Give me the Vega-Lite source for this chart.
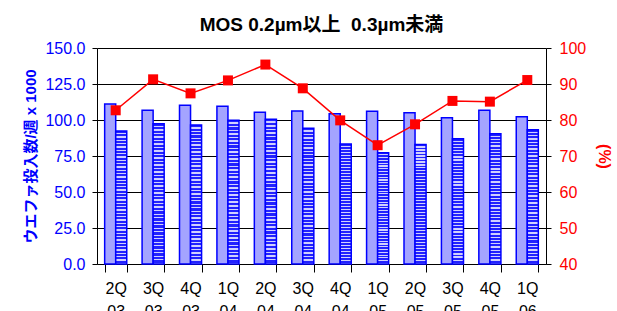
{
  "$schema": "https://vega.github.io/schema/vega-lite/v6.json",
  "width": 449,
  "height": 216,
  "autosize": "none",
  "padding": {"left": 97, "top": 48, "right": 71, "bottom": 47},
  "background": "white",
  "config": {
    "font": "Liberation Sans, Noto Sans CJK JP",
    "view": {"stroke": null}
  },
  "title": {
    "text": "MOS 0.2µm以上\u00a0\u00a00.3µm未満",
    "fontSize": 19,
    "fontWeight": "bold",
    "color": "black",
    "anchor": "middle",
    "frame": "group",
    "offset": 5
  },
  "datasets": {
    "bars": [
      {"q": "2Q 03", "s": "A", "v": 111.1}, {"q": "2Q 03", "s": "B", "v": 92.4},
      {"q": "3Q 03", "s": "A", "v": 106.7}, {"q": "3Q 03", "s": "B", "v": 97.4},
      {"q": "4Q 03", "s": "A", "v": 110.2}, {"q": "4Q 03", "s": "B", "v": 96.5},
      {"q": "1Q 04", "s": "A", "v": 109.5}, {"q": "1Q 04", "s": "B", "v": 99.8},
      {"q": "2Q 04", "s": "A", "v": 105.3}, {"q": "2Q 04", "s": "B", "v": 100.5},
      {"q": "3Q 04", "s": "A", "v": 106.2}, {"q": "3Q 04", "s": "B", "v": 94.2},
      {"q": "4Q 04", "s": "A", "v": 104.4}, {"q": "4Q 04", "s": "B", "v": 83.3},
      {"q": "1Q 05", "s": "A", "v": 106.0}, {"q": "1Q 05", "s": "B", "v": 77.3},
      {"q": "2Q 05", "s": "A", "v": 105.1}, {"q": "2Q 05", "s": "B", "v": 82.9},
      {"q": "3Q 05", "s": "A", "v": 101.6}, {"q": "3Q 05", "s": "B", "v": 87.0},
      {"q": "4Q 05", "s": "A", "v": 106.7}, {"q": "4Q 05", "s": "B", "v": 90.5},
      {"q": "1Q 06", "s": "A", "v": 102.3}, {"q": "1Q 06", "s": "B", "v": 93.3}
    ],
    "line": [
      {"q": "2Q 03", "p": 82.7}, {"q": "3Q 03", "p": 91.3}, {"q": "4Q 03", "p": 87.4},
      {"q": "1Q 04", "p": 91.0}, {"q": "2Q 04", "p": 95.4}, {"q": "3Q 04", "p": 88.8},
      {"q": "4Q 04", "p": 79.9}, {"q": "1Q 05", "p": 73.0}, {"q": "2Q 05", "p": 78.8},
      {"q": "3Q 05", "p": 85.3}, {"q": "4Q 05", "p": 85.1}, {"q": "1Q 06", "p": 91.1}
    ]
  },
  "layer": [
    {
      "data": {"name": "bars"},
      "mark": {"type": "bar", "stroke": "#0000ff", "strokeWidth": 1.5},
      "encoding": {
        "x": {
          "field": "q", "type": "nominal", "sort": null,
          "scale": {"paddingInner": 0.41, "paddingOuter": 0.205},
          "axis": {
            "title": null, "labelAngle": 0, "labelFontSize": 16, "labelColor": "black",
            "labelExpr": "split(datum.label, ' ')", "labelLineHeight": 23,
            "tickBand": "extent", "tickSize": 8, "tickColor": "black", "domainColor": "black",
            "labelPadding": 8, "grid": false
          }
        },
        "xOffset": {"field": "s", "type": "nominal", "scale": {"paddingInner": 0, "paddingOuter": 0}},
        "y": {
          "field": "v", "type": "quantitative",
          "scale": {"domain": [0, 150], "nice": false},
          "axis": {
            "title": "ウエファ投入数/週 x 1000", "titleColor": "#0000ff", "titleFontSize": 15,
            "titleFontWeight": "bold", "titlePadding": 6,
            "values": [0, 25, 50, 75, 100, 125, 150], "format": ".1f",
            "labelColor": "#0000ff", "labelFontSize": 16, "labelPadding": 7,
            "tickSize": 5, "tickColor": "black", "domainColor": "black",
            "grid": true, "gridColor": "black", "gridWidth": 1
          }
        },
        "fill": {
          "condition": {
            "test": "datum.s === 'B'",
            "value": {
              "gradient": "linear", "x1": 0, "y1": 0, "x2": 0, "y2": 1,
              "stops": [
                {"offset":0,"color":"#2222ff"},{"offset":0.015,"color":"#2222ff"},{"offset":0.015,"color":"#d0d0ff"},{"offset":0.025,"color":"#d0d0ff"},
                {"offset":0.025,"color":"#2222ff"},{"offset":0.04,"color":"#2222ff"},{"offset":0.04,"color":"#d0d0ff"},{"offset":0.05,"color":"#d0d0ff"},
                {"offset":0.05,"color":"#2222ff"},{"offset":0.065,"color":"#2222ff"},{"offset":0.065,"color":"#d0d0ff"},{"offset":0.075,"color":"#d0d0ff"},
                {"offset":0.075,"color":"#2222ff"},{"offset":0.09,"color":"#2222ff"},{"offset":0.09,"color":"#d0d0ff"},{"offset":0.1,"color":"#d0d0ff"},
                {"offset":0.1,"color":"#2222ff"},{"offset":0.115,"color":"#2222ff"},{"offset":0.115,"color":"#d0d0ff"},{"offset":0.125,"color":"#d0d0ff"},
                {"offset":0.125,"color":"#2222ff"},{"offset":0.14,"color":"#2222ff"},{"offset":0.14,"color":"#d0d0ff"},{"offset":0.15,"color":"#d0d0ff"},
                {"offset":0.15,"color":"#2222ff"},{"offset":0.165,"color":"#2222ff"},{"offset":0.165,"color":"#d0d0ff"},{"offset":0.175,"color":"#d0d0ff"},
                {"offset":0.175,"color":"#2222ff"},{"offset":0.19,"color":"#2222ff"},{"offset":0.19,"color":"#d0d0ff"},{"offset":0.2,"color":"#d0d0ff"},
                {"offset":0.2,"color":"#2222ff"},{"offset":0.215,"color":"#2222ff"},{"offset":0.215,"color":"#d0d0ff"},{"offset":0.225,"color":"#d0d0ff"},
                {"offset":0.225,"color":"#2222ff"},{"offset":0.24,"color":"#2222ff"},{"offset":0.24,"color":"#d0d0ff"},{"offset":0.25,"color":"#d0d0ff"},
                {"offset":0.25,"color":"#2222ff"},{"offset":0.265,"color":"#2222ff"},{"offset":0.265,"color":"#d0d0ff"},{"offset":0.275,"color":"#d0d0ff"},
                {"offset":0.275,"color":"#2222ff"},{"offset":0.29,"color":"#2222ff"},{"offset":0.29,"color":"#d0d0ff"},{"offset":0.3,"color":"#d0d0ff"},
                {"offset":0.3,"color":"#2222ff"},{"offset":0.315,"color":"#2222ff"},{"offset":0.315,"color":"#d0d0ff"},{"offset":0.325,"color":"#d0d0ff"},
                {"offset":0.325,"color":"#2222ff"},{"offset":0.34,"color":"#2222ff"},{"offset":0.34,"color":"#d0d0ff"},{"offset":0.35,"color":"#d0d0ff"},
                {"offset":0.35,"color":"#2222ff"},{"offset":0.365,"color":"#2222ff"},{"offset":0.365,"color":"#d0d0ff"},{"offset":0.375,"color":"#d0d0ff"},
                {"offset":0.375,"color":"#2222ff"},{"offset":0.39,"color":"#2222ff"},{"offset":0.39,"color":"#d0d0ff"},{"offset":0.4,"color":"#d0d0ff"},
                {"offset":0.4,"color":"#2222ff"},{"offset":0.415,"color":"#2222ff"},{"offset":0.415,"color":"#d0d0ff"},{"offset":0.425,"color":"#d0d0ff"},
                {"offset":0.425,"color":"#2222ff"},{"offset":0.44,"color":"#2222ff"},{"offset":0.44,"color":"#d0d0ff"},{"offset":0.45,"color":"#d0d0ff"},
                {"offset":0.45,"color":"#2222ff"},{"offset":0.465,"color":"#2222ff"},{"offset":0.465,"color":"#d0d0ff"},{"offset":0.475,"color":"#d0d0ff"},
                {"offset":0.475,"color":"#2222ff"},{"offset":0.49,"color":"#2222ff"},{"offset":0.49,"color":"#d0d0ff"},{"offset":0.5,"color":"#d0d0ff"},
                {"offset":0.5,"color":"#2222ff"},{"offset":0.515,"color":"#2222ff"},{"offset":0.515,"color":"#d0d0ff"},{"offset":0.525,"color":"#d0d0ff"},
                {"offset":0.525,"color":"#2222ff"},{"offset":0.54,"color":"#2222ff"},{"offset":0.54,"color":"#d0d0ff"},{"offset":0.55,"color":"#d0d0ff"},
                {"offset":0.55,"color":"#2222ff"},{"offset":0.565,"color":"#2222ff"},{"offset":0.565,"color":"#d0d0ff"},{"offset":0.575,"color":"#d0d0ff"},
                {"offset":0.575,"color":"#2222ff"},{"offset":0.59,"color":"#2222ff"},{"offset":0.59,"color":"#d0d0ff"},{"offset":0.6,"color":"#d0d0ff"},
                {"offset":0.6,"color":"#2222ff"},{"offset":0.615,"color":"#2222ff"},{"offset":0.615,"color":"#d0d0ff"},{"offset":0.625,"color":"#d0d0ff"},
                {"offset":0.625,"color":"#2222ff"},{"offset":0.64,"color":"#2222ff"},{"offset":0.64,"color":"#d0d0ff"},{"offset":0.65,"color":"#d0d0ff"},
                {"offset":0.65,"color":"#2222ff"},{"offset":0.665,"color":"#2222ff"},{"offset":0.665,"color":"#d0d0ff"},{"offset":0.675,"color":"#d0d0ff"},
                {"offset":0.675,"color":"#2222ff"},{"offset":0.69,"color":"#2222ff"},{"offset":0.69,"color":"#d0d0ff"},{"offset":0.7,"color":"#d0d0ff"},
                {"offset":0.7,"color":"#2222ff"},{"offset":0.715,"color":"#2222ff"},{"offset":0.715,"color":"#d0d0ff"},{"offset":0.725,"color":"#d0d0ff"},
                {"offset":0.725,"color":"#2222ff"},{"offset":0.74,"color":"#2222ff"},{"offset":0.74,"color":"#d0d0ff"},{"offset":0.75,"color":"#d0d0ff"},
                {"offset":0.75,"color":"#2222ff"},{"offset":0.765,"color":"#2222ff"},{"offset":0.765,"color":"#d0d0ff"},{"offset":0.775,"color":"#d0d0ff"},
                {"offset":0.775,"color":"#2222ff"},{"offset":0.79,"color":"#2222ff"},{"offset":0.79,"color":"#d0d0ff"},{"offset":0.8,"color":"#d0d0ff"},
                {"offset":0.8,"color":"#2222ff"},{"offset":0.815,"color":"#2222ff"},{"offset":0.815,"color":"#d0d0ff"},{"offset":0.825,"color":"#d0d0ff"},
                {"offset":0.825,"color":"#2222ff"},{"offset":0.84,"color":"#2222ff"},{"offset":0.84,"color":"#d0d0ff"},{"offset":0.85,"color":"#d0d0ff"},
                {"offset":0.85,"color":"#2222ff"},{"offset":0.865,"color":"#2222ff"},{"offset":0.865,"color":"#d0d0ff"},{"offset":0.875,"color":"#d0d0ff"},
                {"offset":0.875,"color":"#2222ff"},{"offset":0.89,"color":"#2222ff"},{"offset":0.89,"color":"#d0d0ff"},{"offset":0.9,"color":"#d0d0ff"},
                {"offset":0.9,"color":"#2222ff"},{"offset":0.915,"color":"#2222ff"},{"offset":0.915,"color":"#d0d0ff"},{"offset":0.925,"color":"#d0d0ff"},
                {"offset":0.925,"color":"#2222ff"},{"offset":0.94,"color":"#2222ff"},{"offset":0.94,"color":"#d0d0ff"},{"offset":0.95,"color":"#d0d0ff"},
                {"offset":0.95,"color":"#2222ff"},{"offset":0.965,"color":"#2222ff"},{"offset":0.965,"color":"#d0d0ff"},{"offset":0.975,"color":"#d0d0ff"},
                {"offset":0.975,"color":"#2222ff"},{"offset":0.99,"color":"#2222ff"},{"offset":0.99,"color":"#d0d0ff"},{"offset":1,"color":"#d0d0ff"}
              ]
            }
          },
          "value": "#a4a4ff"
        }
      }
    },
    {
      "data": {"name": "line"},
      "mark": {
        "type": "line", "color": "#ff0000", "strokeWidth": 1.5,
        "point": {"shape": "square", "size": 100, "filled": true, "fill": "#ff0000", "opacity": 1}
      },
      "encoding": {
        "x": {"field": "q", "type": "nominal", "sort": null},
        "y": {
          "field": "p", "type": "quantitative",
          "scale": {"domain": [40, 100], "nice": false},
          "axis": {
            "orient": "right", "title": "(%)", "titleColor": "#ff0000", "titleFontSize": 16,
            "titleFontWeight": "bold", "titlePadding": 10,
            "values": [40, 50, 60, 70, 80, 90, 100],
            "labelColor": "#ff0000", "labelFontSize": 16, "labelPadding": 8,
            "tickSize": 5, "tickColor": "black", "domainColor": "black", "grid": false
          }
        }
      }
    }
  ],
  "resolve": {"scale": {"y": "independent"}}
}
